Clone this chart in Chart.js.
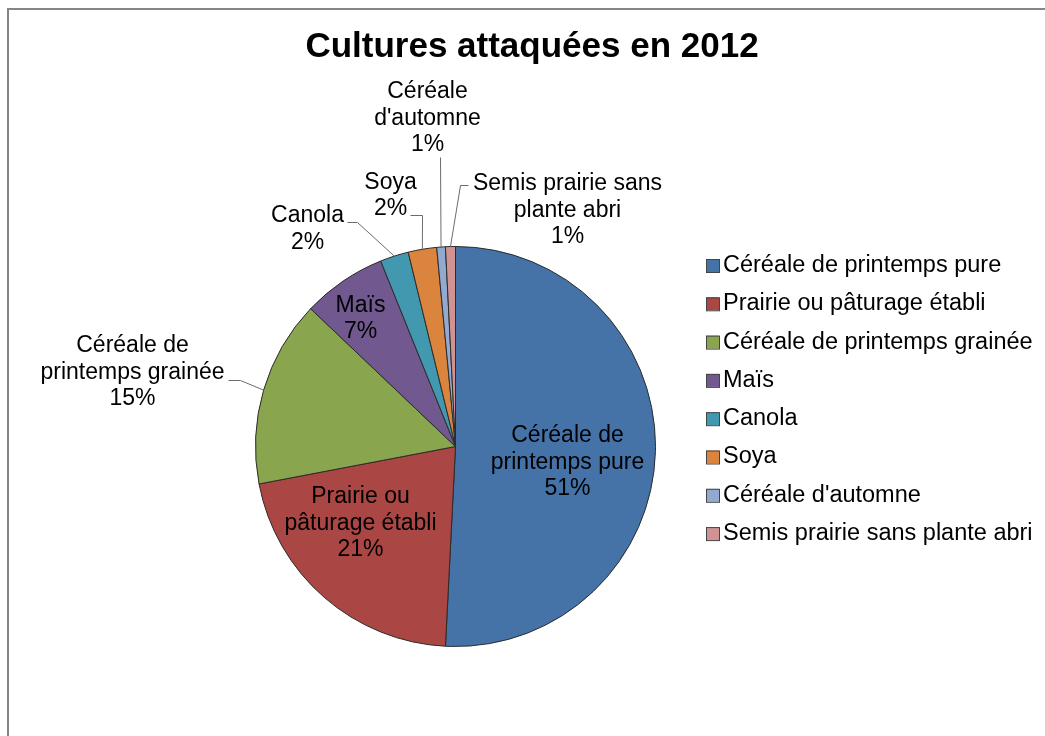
<!DOCTYPE html>
<html>
<head>
    <meta charset="utf-8">
    <title>Cultures attaquées en 2012</title>
    <script src="https://cdn.jsdelivr.net/npm/chart.js@4.4.0/dist/chart.umd.min.js"></script>
    <style>
        html, body { margin: 0; padding: 0; background: #fff; }
        #chart1 { display: block; }
    </style>
</head>
<body>
    <canvas id="chart1" width="1045" height="736"></canvas>
    <script>
        // data
        const categories = ['Céréale de printemps pure', 'Prairie ou pâturage établi', 'Céréale de printemps grainée', 'Maïs', 'Canola', 'Soya', "Céréale d'automne", 'Semis prairie sans plante abri'];
        const values = [50.8, 21.2, 15.1, 6.8, 2.3, 2.3, 0.7, 0.8];
        const labelLines = [['Céréale de', 'printemps pure'], ['Prairie ou', 'pâturage établi'], ['Céréale de', 'printemps grainée'], ['Maïs'], ['Canola'], ['Soya'], ['Céréale', "d'automne"], ['Semis prairie sans', 'plante abri']];
        const titleText = 'Cultures attaquées en 2012';

        const colors = ['#4572A7', '#AA4643', '#89A54E', '#71588F', '#4198AF', '#DB843D', '#93A9CF', '#D19392'];

        // label block centres, in units of the pie radius from its centre
        const labelPos = [[0.56, 0.08], [-0.475, 0.385], [-1.615, -0.37], [-0.475, -0.64], [-0.74, -1.0875], [-0.325, -1.255], [-0.14, -1.64], [0.56, -1.18]];
        // leader line start + elbow (radius units), null = no leader
        const leaders = [null, null, [-1.135, -0.33, -1.075, -0.33], null, [-0.54, -1.12, -0.49, -1.12], [-0.225, -1.155, -0.165, -1.155], [-0.075, -1.445, -0.075, -1.445], [0.065, -1.305, 0.025, -1.305]];

        const FONT = '"Liberation Sans", Arial, sans-serif';

        const decorPlugin = {
            id: 'decor',
            beforeDraw(chart) {
                const c = chart.ctx;
                c.save();
                c.strokeStyle = '#868686';
                c.lineWidth = 2;
                c.strokeRect(8, 9, 1100, 800);
                c.fillStyle = '#000';
                c.font = 'bold 35px ' + FONT;
                c.textAlign = 'center';
                c.textBaseline = 'alphabetic';
                c.fillText(titleText, 532, 57);

                // legend
                c.font = '23.5px ' + FONT;
                c.textAlign = 'left';
                c.textBaseline = 'middle';
                categories.forEach((name, i) => {
                    const y = 265.5 + i * 38.3;
                    c.fillStyle = colors[i];
                    c.fillRect(706, y - 6.5, 13, 13);
                    c.strokeStyle = '#444';
                    c.lineWidth = 1;
                    c.strokeRect(706.5, y - 6, 13, 13);
                    c.fillStyle = '#000';
                    c.fillText(name, 723, y);
                });
                c.restore();
            },
            afterDatasetsDraw(chart) {
                const c = chart.ctx;
                const meta = chart.getDatasetMeta(0);
                const total = values.reduce((a, b) => a + b, 0);
                c.save();
                c.font = '23px ' + FONT;
                c.textAlign = 'center';
                c.textBaseline = 'middle';
                c.fillStyle = '#000';
                meta.data.forEach((arc, i) => {
                    const cx = arc.x, cy = arc.y, r = arc.outerRadius;
                    const lines = labelLines[i].concat([Math.round(values[i] / total * 100) + '%']);
                    const bx = cx + labelPos[i][0] * r;
                    const by = cy + labelPos[i][1] * r;
                    const lh = 26.5;
                    lines.forEach((t, k) => {
                        c.fillText(t, bx, by + (k - (lines.length - 1) / 2) * lh);
                    });
                    const L = leaders[i];
                    if (L) {
                        const mid = (arc.startAngle + arc.endAngle) / 2;
                        const ex = cx + Math.cos(mid) * r;
                        const ey = cy + Math.sin(mid) * r;
                        c.beginPath();
                        c.strokeStyle = '#6b6b6b';
                        c.lineWidth = 1;
                        c.moveTo(cx + L[0] * r, cy + L[1] * r);
                        c.lineTo(cx + L[2] * r, cy + L[3] * r);
                        c.lineTo(ex, ey);
                        c.stroke();
                    }
                });
                c.restore();
            }
        };

        var ctx1 = document.getElementById('chart1').getContext('2d');
        var chart1 = new Chart(ctx1, {
            type: 'pie',
            data: {
                labels: categories,
                datasets: [{ data: values, backgroundColor: colors, borderColor: '#2b2b2b', borderWidth: 1 }]
            },
            options: {
                responsive: false,
                animation: false,
                events: [],
                layout: { padding: { left: 255, top: 246, right: 389, bottom: 89 } },
                plugins: { legend: { display: false }, title: { display: false }, tooltip: { enabled: false } }
            },
            plugins: [decorPlugin]
        });
    </script>
</body>
</html>
